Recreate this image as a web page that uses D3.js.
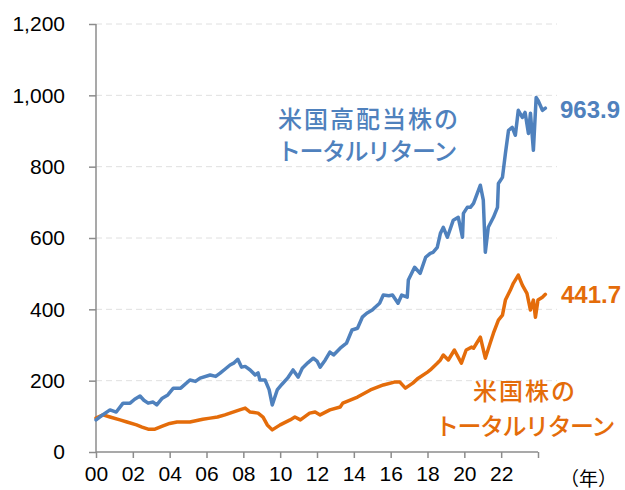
<!DOCTYPE html>
<html>
<head>
<meta charset="utf-8">
<style>
    body { margin: 0; background: #fff; }
    svg { display: block; }
    text { font-family: "Liberation Sans", Arial, sans-serif; }
    .jp { font-family: "Noto Sans CJK JP", sans-serif; }
</style>
</head>
<body>
<svg width="625" height="490"></svg>
<script src="https://cdn.jsdelivr.net/npm/d3@7"></script>
<script>
    // years are measured from the "00" tick (2000)
    var highDivYears = [0.0, 0.2, 0.76, 1.1, 1.47, 1.85, 2.1, 2.39, 2.6, 2.83, 3.1, 3.3, 3.6, 3.9, 4.2, 4.6, 5.1, 5.4, 5.65, 6.2, 6.5, 6.74, 7.0, 7.28, 7.5, 7.7, 7.9, 8.1, 8.37, 8.64, 8.8, 8.9, 9.18, 9.4, 9.57, 9.84, 10.1, 10.4, 10.7, 10.98, 11.2, 11.5, 11.8, 12.0, 12.17, 12.45, 12.7, 12.9, 13.26, 13.6, 13.9, 14.2, 14.46, 14.7, 15.0, 15.16, 15.4, 15.6, 15.9, 16.1, 16.4, 16.6, 16.9, 16.96, 17.3, 17.6, 17.9, 18.15, 18.3, 18.53, 18.7, 18.86, 19.08, 19.4, 19.67, 19.9, 19.95, 20.16, 20.33, 20.5, 20.87, 21.03, 21.14, 21.3, 21.58, 21.8, 21.85, 22.07, 22.23, 22.4, 22.6, 22.77, 22.93, 23.15, 23.3, 23.48, 23.59, 23.75, 23.9, 24.0, 24.24, 24.4];
    var highDivValues = [90, 98, 118, 112, 137, 137, 148, 157, 145, 137, 140, 132, 151, 160, 179, 179, 202, 198, 207, 216, 212, 221, 232, 244, 250, 260, 238, 240, 230, 216, 222, 202, 202, 175, 132, 174, 190, 207, 230, 210, 235, 250, 263, 255, 238, 258, 280, 272, 291, 305, 342, 347, 378, 389, 398, 406, 417, 440, 438, 440, 417, 440, 434, 482, 518, 501, 546, 557, 560, 574, 613, 630, 602, 650, 658, 602, 669, 686, 686, 697, 748, 706, 560, 630, 658, 686, 753, 770, 837, 902, 910, 888, 958, 938, 952, 893, 950, 846, 994, 986, 958, 964];

    var usYears = [0.0, 0.38, 0.76, 1.3, 1.68, 2.2, 2.5, 2.83, 3.2, 3.64, 4.0, 4.4, 5.1, 5.8, 6.2, 6.6, 7.0, 7.28, 7.8, 8.1, 8.37, 8.8, 9.07, 9.3, 9.57, 10.0, 10.54, 10.8, 11.1, 11.6, 11.9, 12.17, 12.7, 13.26, 13.4, 14.2, 14.9, 15.6, 16.2, 16.5, 16.8, 17.2, 17.5, 18.0, 18.15, 18.53, 18.7, 18.86, 19.13, 19.46, 19.84, 20.1, 20.4, 20.5, 20.87, 21.14, 21.4, 21.58, 21.85, 22.07, 22.23, 22.5, 22.66, 22.93, 23.15, 23.4, 23.59, 23.75, 23.86, 24.0, 24.24, 24.4];
    var usValues = [95, 104, 98, 90, 84, 76, 70, 64, 64, 73, 80, 84, 84, 92, 95, 98, 104, 109, 118, 123, 112, 109, 98, 76, 62, 76, 90, 98, 90, 109, 112, 104, 118, 126, 137, 154, 174, 188, 196, 196, 179, 193, 207, 224, 230, 249, 258, 272, 258, 286, 249, 286, 294, 291, 322, 263, 305, 333, 370, 384, 426, 454, 473, 496, 468, 445, 398, 426, 378, 426, 434, 442];

    var xTicks = [0, 2, 4, 6, 8, 10, 12, 14, 16, 18, 20, 22, 24];
    var xTickLabels = ["00", "02", "04", "06", "08", "10", "12", "14", "16", "18", "20", "22", ""];
    var yTicks = [0, 200, 400, 600, 800, 1000, 1200];

    var highDivName = ["米国高配当株の", "トータルリターン"];
    var usName = ["米国株の", "トータルリターン"];
    var highDivLast = "963.9", usLast = "441.7";

    var blue = "#4f81bd", orange = "#e46c0a", axisGray = "#8c8c8c";

    var svg = d3.select("svg");

    var x = d3.scaleLinear().domain([0, 24]).range([96, 538]);
    var y = d3.scaleLinear().domain([0, 1200]).range([452, 24]);

    // gridlines
    svg.append("g")
        .selectAll("line")
        .data(yTicks.filter(function (d) { return d > 0; }))
        .enter().append("line")
        .attr("x1", x(0))
        .attr("x2", 557)
        .attr("y1", function (d) { return y(d); })
        .attr("y2", function (d) { return y(d); })
        .attr("stroke", "#e0e0e0")
        .attr("stroke-width", 1)
        .style("stroke-dasharray", "6,4");

    var yAxis = svg.append("g")
        .attr("transform", "translate(" + x(0) + ",0)")
        .call(d3.axisLeft(y).tickValues(yTicks).tickSize(7).tickPadding(24)
            .tickFormat(d3.format(",")));
    yAxis.selectAll("text").attr("font-size", 21).attr("fill", "#000")
        .attr("font-family", "Liberation Sans, Arial, sans-serif");

    var xAxis = svg.append("g")
        .attr("transform", "translate(0," + y(0) + ")")
        .call(d3.axisBottom(x).tickValues(xTicks).tickSize(6).tickPadding(8)
            .tickFormat(function (d, i) { return xTickLabels[i]; }));
    xAxis.selectAll("text").attr("font-size", 21).attr("fill", "#000")
        .attr("font-family", "Liberation Sans, Arial, sans-serif");

    svg.selectAll(".domain, .tick line")
        .attr("stroke", axisGray)
        .attr("stroke-width", 1.5);
    yAxis.select(".domain").attr("d", "M0,24V452");
    xAxis.select(".domain").attr("d", "M96,0H538");

    svg.append("text")
        .attr("class", "jp")
        .attr("x", 560)
        .attr("y", 486)
        .attr("font-size", 19)
        .text("（年）");

    var line = d3.line()
        .x(function (d) { return x(d[0]); })
        .y(function (d) { return y(d[1]); });

    function series(years, values, color) {
        svg.append("path")
            .datum(d3.zip(years, values))
            .attr("fill", "none")
            .attr("stroke", color)
            .attr("stroke-width", 3.5)
            .attr("stroke-linejoin", "round")
            .attr("stroke-linecap", "round")
            .attr("d", line);
    }
    series(usYears, usValues, orange);
    series(highDivYears, highDivValues, blue);

    // end values
    svg.append("text")
        .attr("x", 560).attr("y", 118)
        .attr("font-size", 24).attr("font-weight", "bold")
        .attr("fill", blue)
        .text(highDivLast);
    svg.append("text")
        .attr("x", 561).attr("y", 303)
        .attr("font-size", 24).attr("font-weight", "bold")
        .attr("fill", orange)
        .text(usLast);

    // series names: first line wide-set, katakana line tighter
    function label(lines, xs, ys, color) {
        lines.forEach(function (t, i) {
            svg.append("text")
                .attr("class", "jp")
                .attr("x", xs[i])
                .attr("y", ys[i])
                .attr("font-size", 24)
                .attr("font-weight", 500)
                .attr("letter-spacing", i === 0 ? 2 : -1.5)
                .attr("fill", color)
                .text(t);
        });
    }
    label(highDivName, [278, 277], [128, 160], blue);
    label(usName, [473, 435], [400, 435], orange);
</script>
</body>
</html>
